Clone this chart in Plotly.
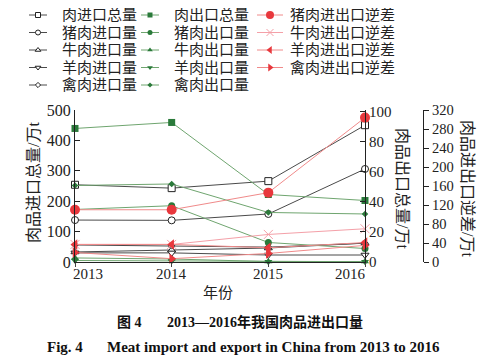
import plotly.graph_objects as go

years = [2013, 2014, 2015, 2016]

# Imports (left axis, 万t)
import_names = ["肉进口总量", "猪肉进口量", "牛肉进口量", "羊肉进口量", "禽肉进口量"]
meat_import_total = [254, 243, 266, 450]
pork_import = [138, 137, 158, 306]
beef_import = [33, 39, 46, 62]
mutton_import = [30, 30, 23, 23]
poultry_import = [56, 53, 49, 62]

# Exports (right axis 1, 万t)
export_names = ["肉出口总量", "猪肉出口量", "牛肉出口量", "羊肉出口量", "禽肉出口量"]
meat_export_total = [89, 93, 45, 41]
pork_export = [35, 37.5, 13, 9]
beef_export = [2.7, 2, 0.3, 0.3]
mutton_export = [1, 0.6, 0.2, 0.2]
poultry_export = [51, 52, 33, 32]

# Trade deficits (right axis 2, 万t)
deficit_names = ["猪肉进出口逆差", "牛肉进出口逆差", "羊肉进出口逆差", "禽肉进出口逆差"]
pork_deficit = [110, 110, 146, 304]
beef_deficit = [37, 37, 58, 70]
mutton_deficit = [37, 37, 30, 41]
poultry_deficit = [20, 7, 18, 35]

x_tick_labels = ["2013", "2014", "2015", "2016"]

FONT = "Liberation Serif, Noto Sans CJK SC, serif"
BLACK_LINE = "#4a4a4a"
GREEN_LINE = "#6fa56f"
GREEN_MK = "#2a7a3a"
RED_LINE = "#f08a8a"
RED_MK = "#e8383d"
PINK = "#f4a0a8"

imports = [meat_import_total, pork_import, beef_import, mutton_import, poultry_import]
exports = [meat_export_total, pork_export, beef_export, mutton_export, poultry_export]
deficits = [pork_deficit, beef_deficit, mutton_deficit, poultry_deficit]

sym5 = ["square", "circle", "triangle-up", "triangle-down", "diamond"]
size5 = [7, 7, 7, 7, 5]

imp_styles = [dict(symbol=s, size=z, color="white", line=dict(color="#222", width=1))
              for s, z in zip(sym5, size5)]
exp_styles = [dict(symbol=s, size=z, color=GREEN_MK, line=dict(color=GREEN_MK, width=0))
              for s, z in zip(sym5, size5)]
def_styles = [
    dict(symbol="circle", size=10, color=RED_MK, line=dict(width=0)),
    dict(symbol="x-thin-open", size=9, color=PINK, line=dict(color=PINK, width=1)),
    dict(symbol="triangle-left", size=9, color=RED_MK, line=dict(width=0)),
    dict(symbol="triangle-right", size=9, color=RED_MK, line=dict(width=0)),
]
def_line_colors = [RED_LINE, PINK, RED_LINE, RED_LINE]

fig = go.Figure()

for name, vals, st in zip(import_names, imports, imp_styles):
    fig.add_trace(go.Scatter(x=years, y=vals, name=name, mode="lines+markers",
                             line=dict(color=BLACK_LINE, width=1), marker=st,
                             xaxis="x", yaxis="y", cliponaxis=False, showlegend=False))
for name, vals, st in zip(export_names, exports, exp_styles):
    fig.add_trace(go.Scatter(x=years, y=vals, name=name, mode="lines+markers",
                             line=dict(color=GREEN_LINE, width=1), marker=st,
                             xaxis="x", yaxis="y2", cliponaxis=False, showlegend=False))
for name, vals, st, lc in zip(deficit_names, deficits, def_styles, def_line_colors):
    fig.add_trace(go.Scatter(x=years, y=vals, name=name, mode="lines+markers",
                             line=dict(color=lc, width=1), marker=st,
                             xaxis="x", yaxis="y3", cliponaxis=False, showlegend=False))

# Page places the figure 8px in from the top-left corner; target coordinates
# below are screen pixels, converted to paper fractions.
# Paper spans screen x 8..423 and y 8..262.
def px(xs):
    return (xs - 8) / 415.0
def py(ys):
    return (262 - ys) / 254.0

# ---- manual legend (three columns) drawn on a helper axis in screen-pixel units ----
row_y = [15, 32.5, 50, 67.5, 85]
cols = [
    dict(x0=29, x1=47, names=import_names, styles=imp_styles, lc=[BLACK_LINE] * 5, tx=60),
    dict(x0=141, x1=159, names=export_names, styles=exp_styles, lc=[GREEN_LINE] * 5, tx=172),
    dict(x0=257, x1=283, names=deficit_names, styles=def_styles, lc=def_line_colors, tx=288),
]
annotations = []
for c in cols:
    for i, (nm, st, lc) in enumerate(zip(c["names"], c["styles"], c["lc"])):
        yy = row_y[i]
        mst = dict(st)
        mst["size"] = max(4, st["size"] - 2)
        mst["opacity"] = [0, 1, 0]
        fig.add_trace(go.Scatter(x=[c["x0"], (c["x0"] + c["x1"]) / 2, c["x1"]], y=[yy, yy, yy],
                                 mode="lines+markers", line=dict(color=lc, width=1),
                                 marker=mst, xaxis="x2", yaxis="y4", showlegend=False,
                                 hoverinfo="skip", cliponaxis=False))
        annotations.append(dict(x=c["tx"], y=yy, xref="x2", yref="y4", text=nm,
                                showarrow=False, xanchor="left", yanchor="middle",
                                font=dict(size=15, color="#222", family=FONT)))

# x tick labels
shifts = [13, 0, 0, -15]
for yr, lab, sh in zip(years, x_tick_labels, shifts):
    annotations.append(dict(x=yr, y=0, xref="x", yref="paper", text=lab, showarrow=False,
                            xanchor="center", yanchor="top", yshift=-2, xshift=sh,
                            font=dict(size=15, color="#222", family=FONT)))

def ann(xs, ys, text, size, anchor="center", angle=0, color="#222"):
    return dict(x=px(xs), y=py(ys), xref="paper", yref="paper", text=text,
                textangle=angle, showarrow=False, xanchor=anchor, yanchor="middle",
                font=dict(size=size, color=color, family=FONT))

# axis titles and captions
annotations += [
    ann(33, 183, "肉品进口总量/万t", 16, angle=-90),
    ann(403, 188, "肉品出口总量/万t", 16, angle=90),
    ann(468, 188, "肉品进出口逆差/万t", 16, angle=90),
    ann(218, 293, "年份", 15),
    ann(115, 322, "<b>图 4</b>", 14, anchor="left", color="#111"),
    ann(165, 322, "<b>2013—2016年我国肉品进出口量</b>", 14, anchor="left", color="#111"),
    ann(45, 347, "<b>Fig. 4</b>", 15, anchor="left", color="#111"),
    ann(105, 347, "<b>Meat import and export in China from 2013 to 2016</b>", 15,
        anchor="left", color="#111"),
]

axis_common = dict(showgrid=False, zeroline=False, showline=True, linecolor="#222",
                   linewidth=1, tickcolor="#222", ticklen=5, automargin=False,
                   tickfont=dict(size=15, color="#222", family=FONT))

fig.update_layout(
    width=500, height=361,
    margin=dict(l=0, r=85, t=0, b=107, autoexpand=False),
    paper_bgcolor="white", plot_bgcolor="rgba(0,0,0,0)",
    showlegend=False,
    xaxis=dict(domain=[px(75), px(365)], range=[2013, 2016], tickvals=years,
               showticklabels=False, ticks="outside", ticklen=4, anchor="y",
               showgrid=False, zeroline=False, showline=True, linecolor="#222",
               automargin=False),
    yaxis=dict(axis_common, domain=[0, py(110)], range=[0, 500], dtick=100, ticks="inside",
               anchor="x", tickfont=dict(size=16, color="#222", family=FONT)),
    yaxis2=dict(axis_common, overlaying="y", side="right", anchor="x", range=[0, 101.3],
                dtick=20, ticks="inside"),
    yaxis3=dict(axis_common, overlaying="y", side="right", anchor="free", position=1,
                range=[0, 320], dtick=40, ticks="outside",
                tickfont=dict(size=14.5, color="#222", family=FONT)),
    xaxis2=dict(domain=[0, 1], range=[8, 423], visible=False, anchor="y4"),
    yaxis4=dict(domain=[py(100), 1], range=[100, 8], visible=False, anchor="x2"),
    annotations=annotations,
)

fig.write_html("out.html")
